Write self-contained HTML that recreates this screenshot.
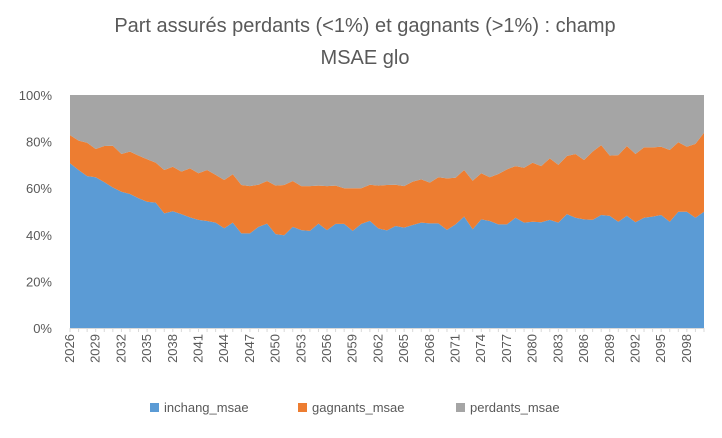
<!DOCTYPE html>
<html><head><meta charset="utf-8"><style>
body{margin:0;background:#fff;}
svg text{font-family:"Liberation Sans",sans-serif;fill:#595959;}
</style></head><body>
<svg id="chart" width="722" height="433" xmlns="http://www.w3.org/2000/svg">
<text x="365" y="32" font-size="20" text-anchor="middle">Part assurés perdants (&lt;1%) et gagnants (&gt;1%) : champ</text>
<text x="365" y="64" font-size="20" text-anchor="middle">MSAE glo</text>
<g id="plot"></g>
<g id="yaxis"></g>
<g id="xaxis"></g>
<g>
<rect x="150" y="403" width="9" height="9" fill="#5b9bd5"/>
<text x="164" y="412" font-size="13">inchang_msae</text>
<rect x="298" y="403" width="9" height="9" fill="#ed7d31"/>
<text x="312" y="412" font-size="13">gagnants_msae</text>
<rect x="456" y="403" width="9" height="9" fill="#a5a5a5"/>
<text x="470" y="412" font-size="13">perdants_msae</text>
</g>
</svg>
<script>
const startYear = 2026;
const inchang = [70.7,67.8,65.2,64.7,62.6,60.3,58.5,57.5,55.7,54.2,53.8,49.2,50.1,48.9,47.5,46.4,45.9,45.2,42.8,45.2,40.6,40.6,43.4,44.8,40.3,39.8,43.4,42.0,41.7,44.8,42.0,44.7,44.7,41.7,44.7,46.0,42.7,41.9,43.8,43.1,44.2,45.2,44.9,44.9,42.1,44.5,47.8,42.4,46.6,45.9,44.5,44.5,47.3,45.2,45.6,45.4,46.4,45.2,48.9,47.3,46.6,46.4,48.5,48.1,45.6,48.2,45.4,47.3,47.8,48.5,45.6,49.9,49.9,47.3,49.9];
const cumulTop = [82.8,80.4,79.5,76.8,78.1,78.2,74.7,75.7,74.0,72.4,71.0,67.8,69.2,67.1,68.5,66.4,67.8,65.7,63.5,66.0,61.4,60.9,61.5,63.1,61.1,61.4,63.1,60.9,60.9,61.1,60.9,61.1,60.0,60.0,60.0,61.5,61.1,61.4,61.5,60.9,62.8,63.8,62.4,64.7,64.2,64.5,67.8,63.2,66.4,64.7,66.1,68.1,69.5,68.8,70.9,69.5,72.8,70.0,73.8,74.7,72.1,75.7,78.5,74.0,74.2,78.1,74.7,77.5,77.5,77.8,76.4,79.7,77.8,79.0,83.8];
const gagnants = cumulTop.map((v,i)=>v-inchang[i]);
const perdants = cumulTop.map(v=>100-v);
const yTicks = [0,20,40,60,80,100];

const X0=70,X1=704,Y0=328,Y1=95;
const n=inchang.length;
const xs=i=>X0+(X1-X0)*i/(n-1);
const ys=v=>Y0-(Y0-Y1)*v/100;
const NS="http://www.w3.org/2000/svg";
const plot=document.getElementById('plot');
function mk(tag,attrs,parent){const e=document.createElementNS(NS,tag);for(const k in attrs)e.setAttribute(k,attrs[k]);parent.appendChild(e);return e;}
function area(lo,hi,color,name){
  let d='M'+xs(0)+','+ys(hi[0]);
  for(let i=1;i<n;i++)d+='L'+xs(i)+','+ys(hi[i]);
  for(let i=n-1;i>=0;i--)d+='L'+xs(i)+','+ys(lo[i]);
  const p=mk('path',{d:d+'Z',fill:color},plot);
  
  
}
const zero=inchang.map(()=>0);
const s1=inchang;
const s2=inchang.map((v,i)=>v+gagnants[i]);
const s3=s2.map((v,i)=>v+perdants[i]);
area(zero,s1,'#5b9bd5','area-inchang');
area(s1,s2,'#ed7d31','area-gagnants');
area(s2,s3,'#a5a5a5','area-perdants');
const ya=document.getElementById('yaxis');
yTicks.forEach(t=>{
  const tx=mk('text',{x:52,y:ys(t)+5,'font-size':13,'text-anchor':'end'},ya);
  tx.textContent=t+'%';
  
  
});
const xa=document.getElementById('xaxis');
mk('line',{x1:X0,x2:X1,y1:Y0+0.5,y2:Y0+0.5,stroke:'#d9d9d9'},xa);
for(let i=0;i<n;i++){
  mk('line',{x1:xs(i),x2:xs(i),y1:Y0,y2:Y0+4,stroke:'#d9d9d9'},xa);
  if(i%3===0){
    const x=xs(i)+4,y=Y0+6;
    const tx=mk('text',{x:x,y:y,'font-size':13,'text-anchor':'end',transform:`rotate(-90 ${x} ${y})`},xa);
    tx.textContent=startYear+i;
    
    
  }
}
</script>
</body></html>
